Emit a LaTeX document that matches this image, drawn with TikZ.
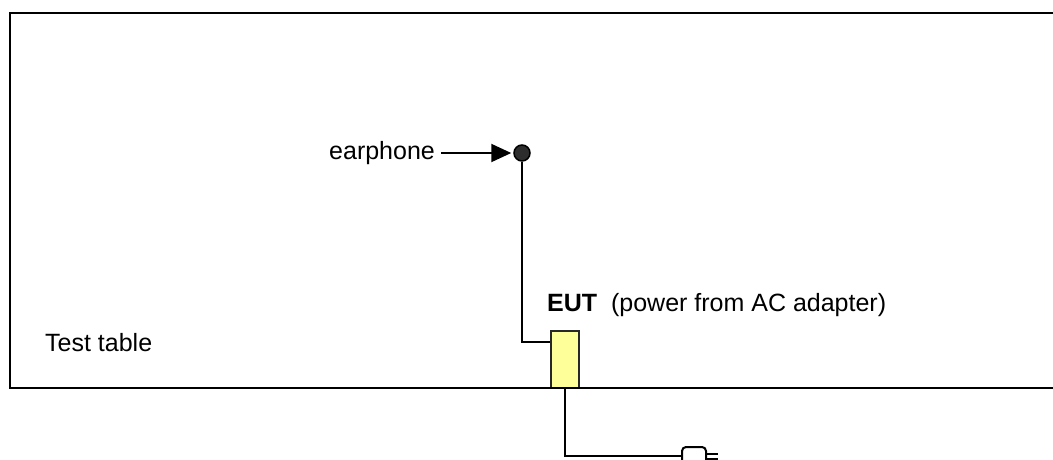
\documentclass[tikz,border=0pt]{standalone}
\usepackage{fontspec}
\setmainfont{Liberation Sans}
\usepackage{tikz}
\usetikzlibrary{arrows.meta}
\definecolor{ink}{RGB}{0,0,0}
\definecolor{eutfill}{RGB}{255,255,153}
\definecolor{eutstroke}{RGB}{40,40,40}
\definecolor{jackfill}{RGB}{45,45,45}
\tikzset{
  lbl/.style={
    anchor=base west, inner sep=0pt,
    font=\fontsize{25}{30}\selectfont, text=ink,
  },
  tbl/.style={line width=2.8pt, draw=ink},
  wire/.style={line width=2pt, draw=ink},
  arr/.style={-{Triangle[length=20pt,width=18pt]}, line width=2pt, draw=ink},
  eut/.style={
    draw=eutstroke, fill=eutfill, line width=2pt,
    minimum width=28pt, minimum height=57pt, inner sep=0pt,
  },
  jack/.style={
    circle, draw=ink, fill=jackfill, line width=1.5pt,
    minimum size=16pt, inner sep=0pt,
  },
  plug/.style={
    draw=ink, fill=white, line width=2pt, rounded corners=4pt,
    minimum width=24pt, minimum height=18pt, inner sep=0pt,
  },
}

\begin{document}
\begin{tikzpicture}[x=1pt,y=-1pt]
  \useasboundingbox (0,0) rectangle (1053,460);

  % earphone
  \node[jack] (ear) at (522,153) {};
  \node[lbl, anchor=west] (earlbl) at (329,153) {earphone};
  \draw[arr, shorten <=6pt, shorten >=2pt] (earlbl) -- (ear);

  % EUT on the table
  \node[eut] (eut) at (564.5,359.5) {};
  \node[lbl] (eutlbl) at (547,311) {\textbf{EUT}~~(power from AC adapter)};
  \draw[wire] (ear) |- ([yshift=-12pt]eut.north west);

  % test table
  \draw[tbl] (1070,13) -| (10,388) -- (1070,388);
  \node[lbl] (tbllbl) at (45,351) {Test table};

  % AC adapter plug
  \node[plug] (plug) at (694,456) {};
  \draw[wire] (eut.south) |- (plug.west);
  \draw[wire] ([yshift=2.5pt]plug.east) -- ++(11,0);
  \draw[wire] ([yshift=-2.5pt]plug.east) -- ++(11,0);
\end{tikzpicture}
\end{document}
